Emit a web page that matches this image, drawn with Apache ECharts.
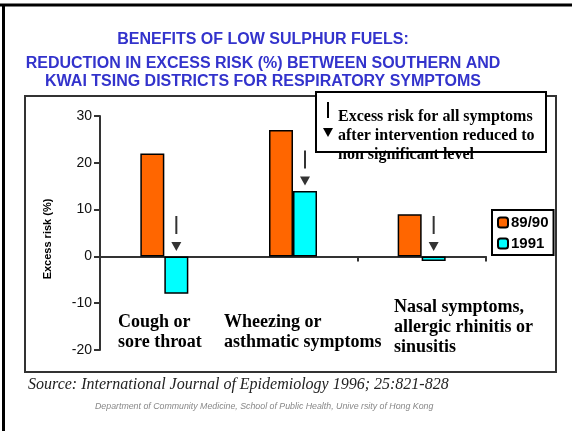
<!DOCTYPE html>
<html>
<head>
<meta charset="utf-8">
<title>Low sulphur fuels</title>
<script src="https://cdn.jsdelivr.net/npm/echarts@6/dist/echarts.min.js"></script>
<style>
  html, body { margin: 0; padding: 0; background: #fff; }
  #main { width: 572px; height: 431px; }
</style>
</head>
<body>
<div id="main"></div>
<script>
// data
var categories = ['Cough or\nsore throat', 'Wheezing or\nasthmatic symptoms', 'Nasal symptoms,\nallergic rhinitis or\nsinusitis'];
var before = [22, 27, 9];      // 89/90
var after = [-8, 14, -1];      // 1991
var seriesNames = ['89/90', '1991'];
var yTicks = { min: -20, max: 30, step: 10 };

// where the category captions sit under the plot
var captionPos = [[118, 312], [224, 312], [394, 297]];

var serif = '"Liberation Serif", "Times New Roman", serif';
var sans = '"Liberation Sans", Arial, sans-serif';

// arrow glyph: short bar then a down triangle
var arrowPath = 'path://M4,0 L6,0 L6,18 L4,18 Z M0,26 L10,26 L5,35 Z';

var arrowData = after.map(function (v, i) { return [i, Math.max(0, v)]; });

var graphics = [
    { type: 'line', shape: { x1: 0, y1: 5, x2: 572, y2: 5 }, style: { stroke: '#000', lineWidth: 3 } },
    { type: 'line', shape: { x1: 3.5, y1: 5, x2: 3.5, y2: 431 }, style: { stroke: '#000', lineWidth: 3 } },
    { type: 'rect', shape: { x: 25, y: 96, width: 531, height: 276 }, style: { fill: 'none', stroke: '#333', lineWidth: 2 }, z: -1 },
    { type: 'rect', shape: { x: 316, y: 92, width: 230, height: 60 }, style: { fill: '#fff', stroke: '#000', lineWidth: 2 }, z: 10 },
    { type: 'rect', shape: { x: 327, y: 102, width: 2, height: 16 }, style: { fill: '#000' }, z: 11 },
    { type: 'polygon', shape: { points: [[323, 128], [333, 128], [328, 137]] }, style: { fill: '#000' }, z: 11 },
    { type: 'text', left: 338, top: 107, z: 11, style: {
        text: 'Excess risk for all symptoms\nafter intervention reduced to\nnon significant level',
        font: 'bold 16px ' + serif, lineHeight: 19, fill: '#000' } },
    { type: 'text', left: 28, top: 377, style: {
        text: 'Source: International Journal of Epidemiology 1996; 25:821-828',
        font: 'italic 16px ' + serif, fill: '#222' } },
    { type: 'text', left: 95, top: 402, style: {
        text: 'Department of Community Medicine, School of Public Health, Unive rsity of Hong Kong',
        font: 'italic 8.8px ' + sans, fill: '#888' } }
];
categories.forEach(function (c, i) {
    graphics.push({ type: 'text', left: captionPos[i][0], top: captionPos[i][1], style: {
        text: c, font: 'bold 18px ' + serif, lineHeight: 20, fill: '#000' } });
});

var chart = echarts.init(document.getElementById('main'));
chart.setOption({
    animation: false,
    backgroundColor: '#fff',
    title: [{
        text: 'BENEFITS OF LOW SULPHUR FUELS:',
        left: 258, top: 27, textAlign: 'center',
        textStyle: { color: '#3333cc', fontFamily: sans, fontWeight: 'bold', fontSize: 16 }
    }, {
        text: 'REDUCTION IN EXCESS RISK (%) BETWEEN SOUTHERN AND\nKWAI TSING DISTRICTS FOR RESPIRATORY SYMPTOMS',
        left: 258, top: 50, textAlign: 'center',
        textStyle: { color: '#3333cc', fontFamily: sans, fontWeight: 'bold', fontSize: 16, lineHeight: 18 }
    }],
    legend: {
        data: seriesNames,
        orient: 'vertical',
        left: 492, top: 210,
        borderColor: '#000', borderWidth: 2,
        padding: [5, 5, 4, 5],
        itemWidth: 10, itemHeight: 10, itemGap: 6,
        textStyle: { fontFamily: sans, fontWeight: 'bold', fontSize: 15, color: '#000', padding: [0, 0, 0, -2] }
    },
    grid: { left: 100, top: 116, width: 386, height: 234 },
    xAxis: {
        type: 'category',
        data: categories,
        axisLine: { onZero: true, lineStyle: { color: '#333', width: 2 } },
        axisTick: { show: true, length: 5, lineStyle: { color: '#333', width: 2 } },
        axisLabel: { show: false },
        splitLine: { show: false }
    },
    yAxis: {
        type: 'value',
        min: yTicks.min, max: yTicks.max, interval: yTicks.step,
        name: 'Excess risk (%)',
        nameLocation: 'middle', nameGap: 47, nameRotate: 90,
        nameTextStyle: { fontFamily: sans, fontWeight: 'bold', fontSize: 11, color: '#000', padding: [0, 0, 0, -12] },
        axisLine: { show: true, lineStyle: { color: '#333', width: 2 } },
        axisTick: { show: true, length: 6, lineStyle: { color: '#333', width: 2 } },
        axisLabel: { fontFamily: sans, fontSize: 14, color: '#111', margin: 8 },
        splitLine: { show: false }
    },
    series: [{
        name: seriesNames[0], type: 'bar', data: before,
        barWidth: 24, barGap: '0%',
        itemStyle: { color: '#ff6600', borderColor: '#000', borderWidth: 1.5 }
    }, {
        name: seriesNames[1], type: 'bar', data: after,
        barWidth: 24,
        itemStyle: { color: '#00ffff', borderColor: '#000', borderWidth: 1.5 }
    }, {
        type: 'scatter', data: arrowData,
        symbol: arrowPath, symbolSize: [10, 35],
        symbolOffset: [12, -23],
        itemStyle: { color: '#000' },
        silent: true, z: 5
    }],
    graphic: graphics
});
</script>
</body>
</html>
